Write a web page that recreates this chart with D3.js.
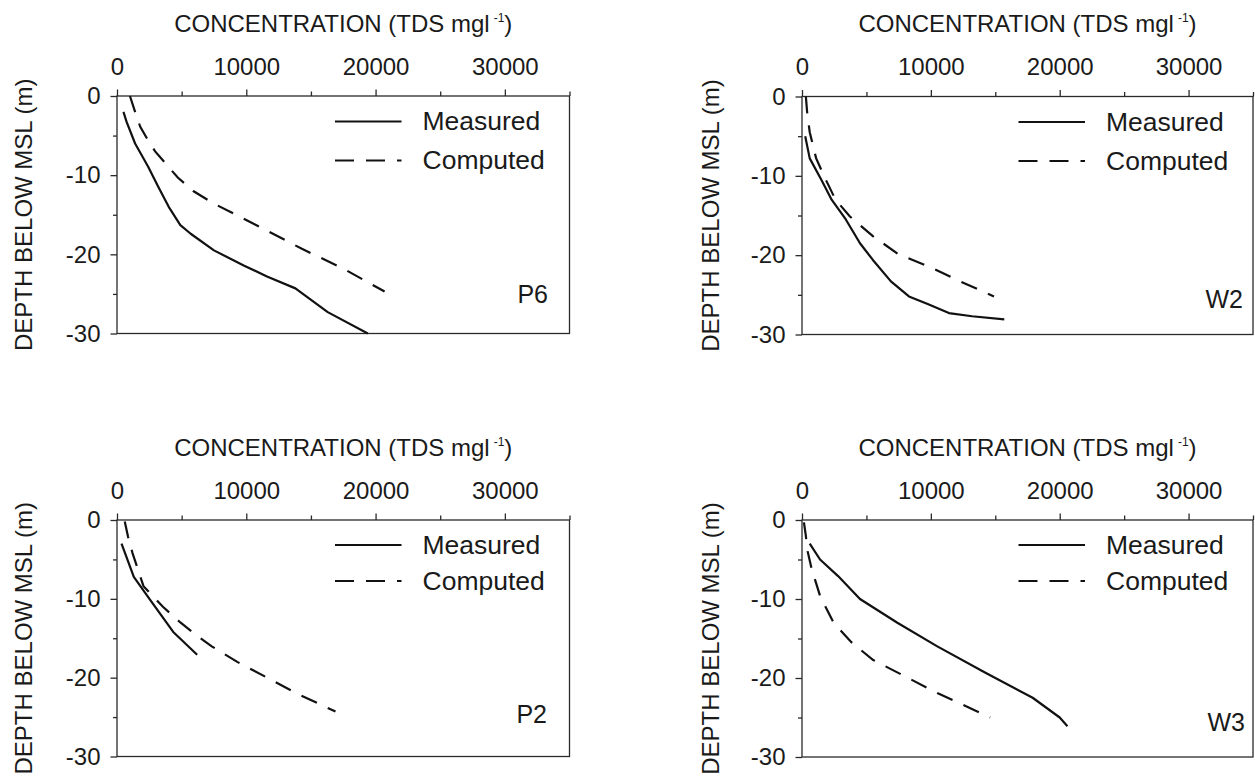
<!DOCTYPE html>
<html>
<head>
<meta charset="utf-8">
<script src="https://cdn.jsdelivr.net/npm/d3@7"></script>
<style>
  html, body { margin: 0; padding: 0; background: #fff; }
  svg { display: block; }
  text { font-family: "Liberation Sans", Arial, Helvetica, sans-serif; fill: #1a1a1a; }
</style>
</head>
<body>
<svg id="chart" width="1255" height="777"></svg>
<script>
// ---- data (concentration TDS mg/l, depth m) ----
const xTicks = [0, 10000, 20000, 30000];
const xMinorTicks = [5000, 15000, 25000, 35000];
const yTicks = [0, -10, -20, -30];
const yMinorTicks = [-5, -15, -25];
const panelNames = ["P6", "W2", "P2", "W3"];
const legendLabels = ["Measured", "Computed"];
const xTitle = "CONCENTRATION (TDS mgl";
const xTitleSup = "-1";
const yTitle = "DEPTH BELOW MSL (m)";

const p6Measured = [[500,-2],[750,-3.3],[1400,-6],[2400,-8.9],[3200,-11.5],[4000,-14],[4900,-16.3],[5700,-17.4],[7500,-19.5],[9800,-21.4],[11600,-22.8],[13800,-24.3],[16300,-27.3],[19400,-30]];
const p6Computed = [[1000,0],[1400,-2],[1800,-3.9],[2400,-5.6],[2950,-7],[3850,-8.7],[4700,-10.3],[5900,-12],[7500,-13.6],[9200,-15],[11000,-16.5],[14300,-19.3],[17500,-21.8],[20700,-24.7]];

const w2Measured = [[250,-5],[600,-7.8],[1500,-10.5],[2300,-13],[3400,-15.5],[4500,-18.5],[5500,-20.6],[6900,-23.3],[8300,-25.2],[9800,-26.2],[11400,-27.3],[13200,-27.7],[15700,-28.1]];
const w2Computed = [[300,0],[400,-2],[600,-4.5],[1100,-7.8],[1850,-10.5],[2600,-13],[3700,-15.1],[5500,-17.6],[7500,-19.9],[9800,-21.4],[12000,-23.1],[14900,-25.2]];

const p2Measured = [[350,-3],[1300,-7.2],[2550,-10.1],[4350,-14.2],[6200,-17.1]];
const p2Computed = [[600,-0.2],[850,-2.1],[1200,-4.2],[2050,-8.4],[3550,-11],[4900,-13],[6200,-14.7],[7300,-16],[8200,-16.9],[9300,-18],[11500,-19.9],[13900,-22],[16900,-24.3]];

const w3Measured = [[600,-3],[1400,-5],[2800,-7.1],[4500,-10],[7400,-13],[10500,-16],[14200,-19.3],[17900,-22.5],[20000,-25],[20600,-26.1]];
const w3Computed = [[150,-0.3],[300,-2],[400,-3.7],[750,-6.2],[1400,-9.6],[2450,-13],[3850,-15.5],[5500,-17.7],[8000,-19.8],[10500,-21.9],[14600,-25]];

const measuredSeries = [p6Measured, w2Measured, p2Measured, w3Measured];
const computedSeries = [p6Computed, w2Computed, p2Computed, w3Computed];

// ---- layout ----
const boxes = [
  {x0: 117, x1: 569.5, y0: 96,   y1: 333.5, yLabX: 32,  tagX: 548,  tagY: 302.5, leg: [25.5, 64.5]},
  {x0: 802, x1: 1253,  y0: 96.5, y1: 334.5, yLabX: 719, tagX: 1243, tagY: 308,   leg: [25.5, 64.5]},
  {x0: 117, x1: 569.5, y0: 520,  y1: 756.5, yLabX: 32,  tagX: 547,  tagY: 723,   leg: [25, 61]},
  {x0: 802, x1: 1253,  y0: 520,  y1: 757,   yLabX: 719, tagX: 1245, tagY: 731,   leg: [25, 61]}
];

const svg = d3.select("#chart");
const axisColor = "#2a2a2a";
const fmt = d => String(d); // plain hyphen-minus, as in the original

boxes.forEach((b, i) => {
  const x = d3.scaleLinear().domain([0, 35000]).range([b.x0, b.x1]);
  const y = d3.scaleLinear().domain([0, -30]).range([b.y0, b.y1]);
  const g = svg.append("g");

  // frame
  g.append("rect")
    .attr("x", b.x0).attr("y", b.y0)
    .attr("width", b.x1 - b.x0).attr("height", b.y1 - b.y0)
    .attr("fill", "none").attr("stroke", axisColor).attr("stroke-width", 1.3);

  const gx = g.append("g").attr("transform", `translate(0,${b.y0})`)
    .call(d3.axisTop(x).tickValues(xTicks).tickSize(6.5).tickSizeOuter(0).tickPadding(15).tickFormat(fmt));
  const gxm = g.append("g").attr("transform", `translate(0,${b.y0})`)
    .call(d3.axisTop(x).tickValues(xMinorTicks).tickSize(4.5).tickSizeOuter(0).tickFormat(""));
  const gy = g.append("g").attr("transform", `translate(${b.x0},0)`)
    .call(d3.axisLeft(y).tickValues(yTicks).tickSize(6.5).tickSizeOuter(0).tickPadding(10).tickFormat(fmt));
  const gym = g.append("g").attr("transform", `translate(${b.x0},0)`)
    .call(d3.axisLeft(y).tickValues(yMinorTicks).tickSize(4).tickSizeOuter(0).tickFormat(""));

  [gx, gxm, gy, gym].forEach(a => {
    a.select(".domain").remove();
    a.selectAll(".tick line").attr("stroke", axisColor).attr("stroke-width", 1.3);
    a.selectAll(".tick text").attr("font-size", 24).attr("font-family", "Liberation Sans, Arial, sans-serif").attr("fill", "#1a1a1a");
  });

  // x title
  const cx = (b.x0 + b.x1) / 2;
  const t = g.append("text")
    .attr("x", cx).attr("y", b.y0 - 64.5)
    .attr("text-anchor", "middle").attr("font-size", 24);
  t.append("tspan").text(xTitle);
  t.append("tspan").attr("font-size", 12).attr("dx", 4).attr("dy", -10).text(xTitleSup);
  t.append("tspan").attr("dy", 10).text(")");

  // y title
  g.append("text")
    .attr("transform", `translate(${b.yLabX},${(b.y0 + b.y1) / 2}) rotate(-90)`)
    .attr("text-anchor", "middle").attr("font-size", 24)
    .text(yTitle);

  // lines
  const line = d3.line().x(d => x(d[0])).y(d => y(d[1]));
  g.append("path").datum(measuredSeries[i])
    .attr("d", line).attr("fill", "none").attr("stroke", "#111").attr("stroke-width", 2.2)
    .attr("stroke-linejoin", "round");
  g.append("path").datum(computedSeries[i])
    .attr("d", line).attr("fill", "none").attr("stroke", "#111").attr("stroke-width", 2.2)
    .attr("stroke-dasharray", "17,12");

  // legend
  const lx0 = b.x1 - 234.5, lx1 = b.x1 - 168, tx = b.x1 - 147;
  const ly = [b.y0 + b.leg[0], b.y0 + b.leg[1]];
  g.append("line").attr("x1", lx0).attr("x2", lx1).attr("y1", ly[0]).attr("y2", ly[0])
    .attr("stroke", "#111").attr("stroke-width", 2.2);
  g.append("line").attr("x1", lx0).attr("x2", lx1).attr("y1", ly[1]).attr("y2", ly[1])
    .attr("stroke", "#111").attr("stroke-width", 2.2).attr("stroke-dasharray", "19,12");
  legendLabels.forEach((lab, k) => {
    g.append("text").attr("x", tx).attr("y", ly[k] + 8.5)
      .attr("font-size", 26.5).text(lab);
  });

  // panel tag
  g.append("text").attr("x", b.tagX).attr("y", b.tagY)
    .attr("text-anchor", "end").attr("font-size", 25).text(panelNames[i]);
});
</script>
</body>
</html>
